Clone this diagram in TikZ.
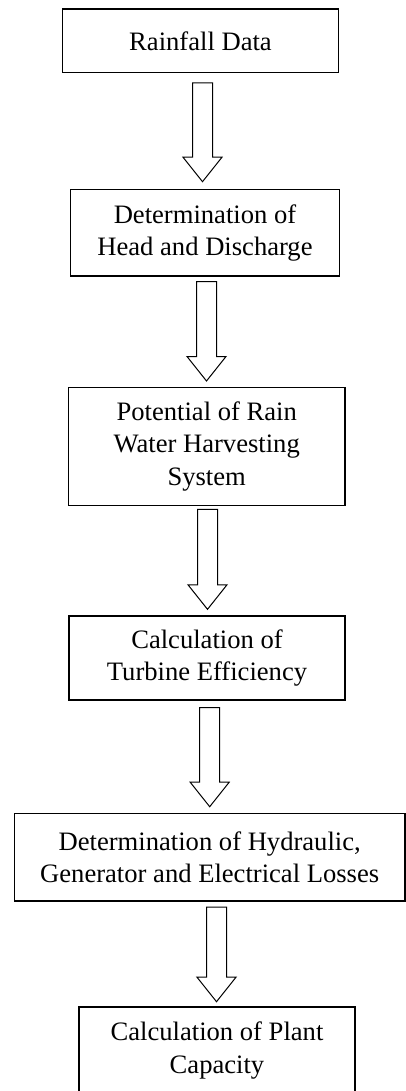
\documentclass[tikz,border=0pt]{standalone}
\usepackage{fontspec}
\setmainfont{Liberation Serif}
\usetikzlibrary{calc}
\begin{document}
\begin{tikzpicture}[x=1pt,y=-1pt,
  box/.style={draw, line width=1.5pt, rectangle, align=center, inner sep=0pt,
    font=\fontsize{26.6}{32.5}\selectfont},
  blockarrow/.style={draw, line width=1pt, line join=miter,
    to path={let \p1=(\tikztostart), \p2=(\tikztotarget) in
      (\x1-10pt,\y1) -- (\x1+10pt,\y1) -- (\x1+10pt,\y2+24.5pt)
      -- (\x1+19.5pt,\y2+24.5pt) -- (\x1,\y2) -- (\x1-19.5pt,\y2+24.5pt)
      -- (\x1-10pt,\y2+24.5pt) -- cycle}}]
\clip (0,0) rectangle (406,1091);
\fill[white] (0,0) rectangle (406,1091);

\node[box, minimum width=275.6, minimum height=63.7] (b1) at (200.5,40.8) {Rainfall Data};
\node[box, minimum width=268.6, minimum height=86.5] (b2) at (205,232.8) {Determination of\\Head and Discharge};
\node[box, minimum width=276.7, minimum height=118.2] (b3) at (206.7,446.4) {Potential of Rain\\Water Harvesting\\System};
\node[box, minimum width=276, minimum height=84] (b4) at (207,658) {Calculation of\\Turbine Efficiency};
\node[box, minimum width=390.7, minimum height=87.7] (b5) at (209.7,857.2) {Determination of Hydraulic,\\Generator and Electrical Losses};
\node[box, minimum width=276, minimum height=87] (b6) at (217,1050.5) {Calculation of Plant\\Capacity};

\coordinate (a1s) at (202.5,83);   \coordinate (a1e) at (202.5,181.7);
\coordinate (a2s) at (206.5,281.7); \coordinate (a2e) at (206.5,381);
\coordinate (a3s) at (207.5,509.3); \coordinate (a3e) at (207.5,609.3);
\coordinate (a4s) at (209.7,707.7); \coordinate (a4e) at (209.7,806.7);
\coordinate (a5s) at (216.5,907);   \coordinate (a5e) at (216.5,1001.7);

\draw[blockarrow] (a1s) to (a1e);
\draw[blockarrow] (a2s) to (a2e);
\draw[blockarrow] (a3s) to (a3e);
\draw[blockarrow] (a4s) to (a4e);
\draw[blockarrow] (a5s) to (a5e);
\end{tikzpicture}
\end{document}
